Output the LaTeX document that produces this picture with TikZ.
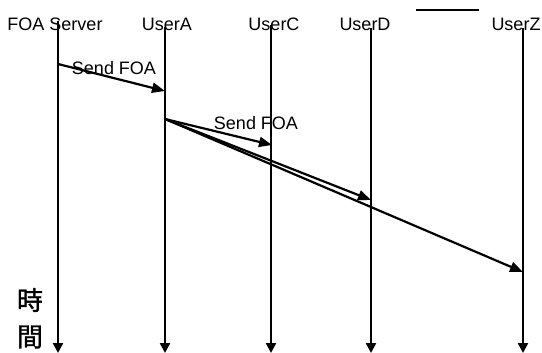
\documentclass[tikz,border=0pt]{standalone}
\usepackage{fontspec}
\setmainfont{Liberation Sans}
\newfontfamily\cjk{Noto Sans CJK TC}[FakeBold=1.2]
\usetikzlibrary{arrows.meta}
\begin{document}
\begin{tikzpicture}[x=1pt,y=-1pt,
  lbl/.style={font=\fontsize{18}{20}\selectfont, inner sep=0pt},
  kanji/.style={font=\cjk\fontsize{26}{28}\selectfont, inner sep=0pt},
  life/.style={line width=2.4pt, -{Triangle[length=10pt,width=10pt]}},
  msg/.style={line width=2.2pt, -{Triangle[length=13pt,width=10pt]}}]
\useasboundingbox (0,0) rectangle (542,353);
% headers
\node[lbl] (hS) at (55,24) {FOA Server};
\node[lbl] (hA) at (167,24) {UserA};
\node[lbl] (hC) at (274,24) {UserC};
\node[lbl] (hD) at (365,24) {UserD};
\node[lbl] (hZ) at (516,24) {UserZ};
% lifeline ends
\coordinate (tS) at (58,21);  \coordinate (bS) at (58,353);
\coordinate (tA) at (165,27); \coordinate (bA) at (165,353);
\coordinate (tC) at (271,25); \coordinate (bC) at (271,353);
\coordinate (tD) at (371,28); \coordinate (bD) at (371,353);
\coordinate (tZ) at (523,28); \coordinate (bZ) at (523,353);
\draw[life] (tS) -- (bS);
\draw[life] (tA) -- (bA);
\draw[life] (tC) -- (bC);
\draw[life] (tD) -- (bD);
\draw[life] (tZ) -- (bZ);
% short line at top
\coordinate (l1) at (416,10); \coordinate (l2) at (479,10);
\draw[line width=1.6pt] (l1) -- (l2);
% messages
\coordinate (m0) at (58,64);  \coordinate (m1) at (165,91);
\coordinate (a0) at (165,119);
\coordinate (c1) at (272,145);
\coordinate (d1) at (371,200);
\coordinate (z1) at (523,272);
\draw[msg] (m0) -- (m1);
\draw[msg] (a0) -- (c1);
\draw[msg] (a0) -- (d1);
\draw[msg] (a0) -- (z1);
\node[lbl] (s1) at (114,68) {Send FOA};
\node[lbl] (s2) at (256,123) {Send FOA};
% time label
\node[kanji] (k1) at (30,300) {時};
\node[kanji] (k2) at (30,337) {間};
\end{tikzpicture}
\end{document}
